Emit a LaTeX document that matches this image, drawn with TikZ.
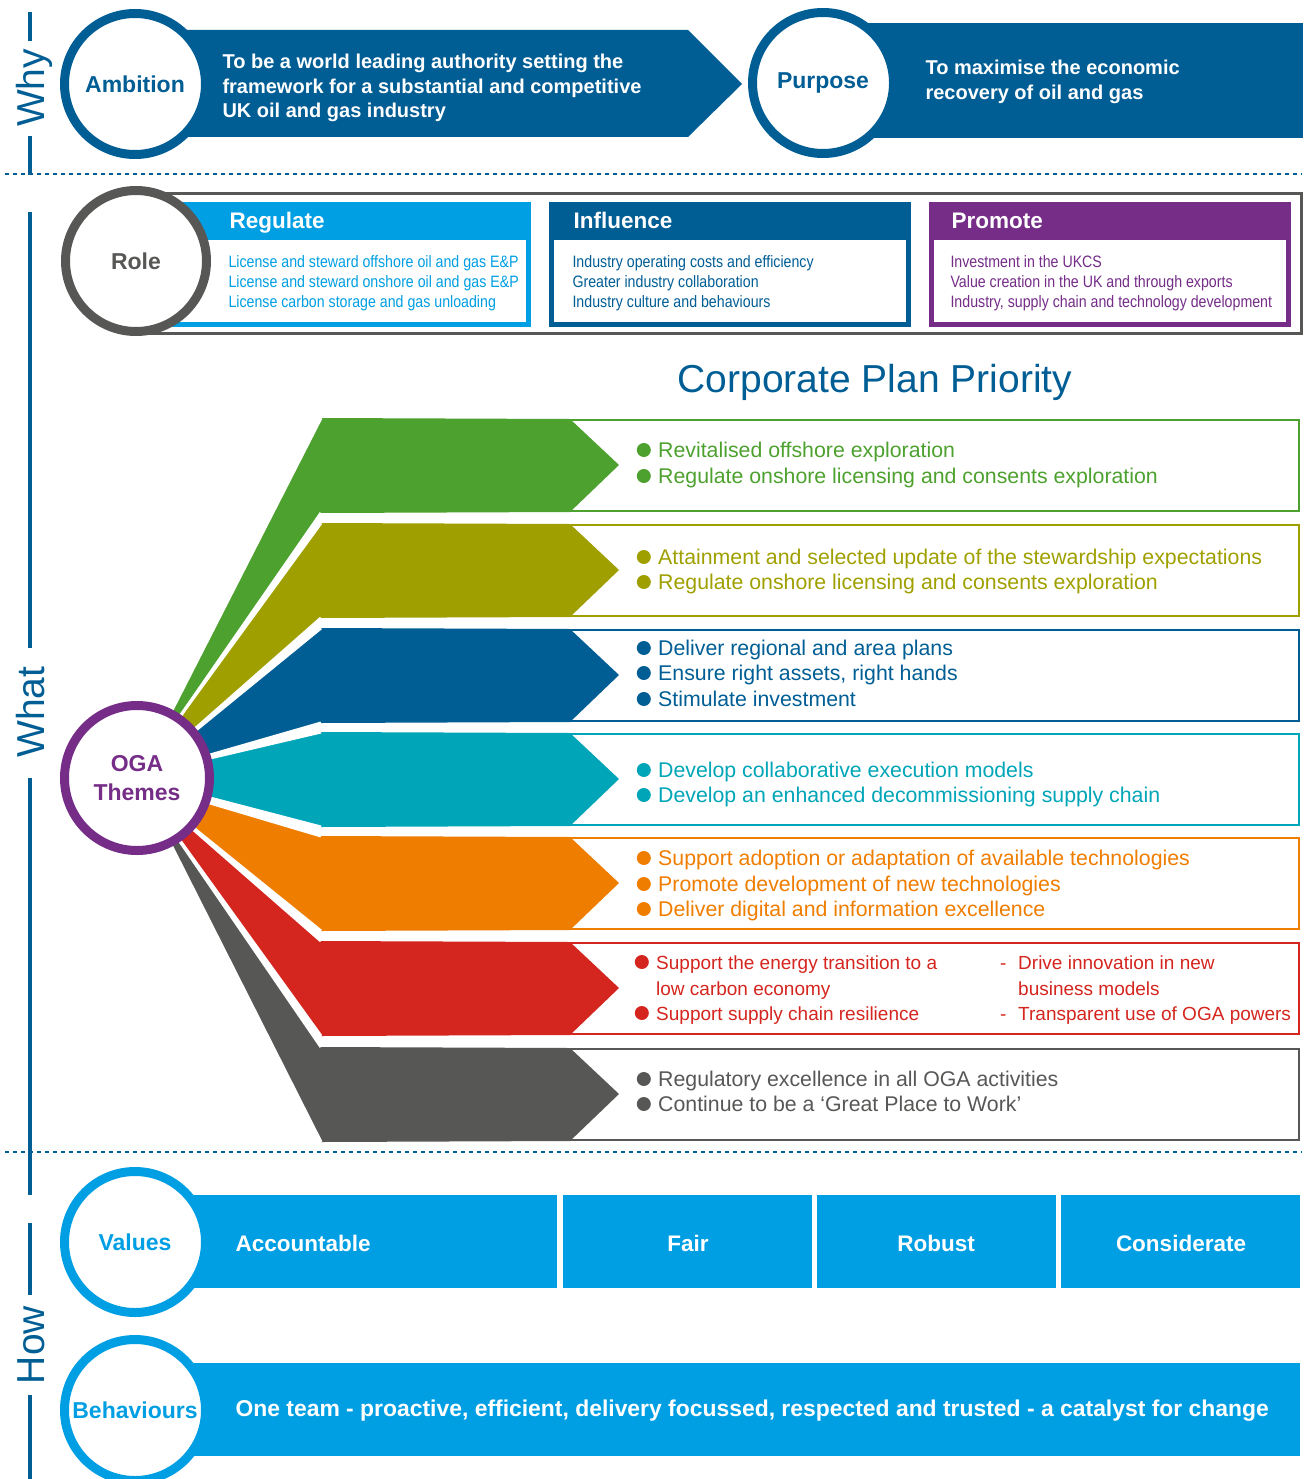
\documentclass[tikz,border=0pt]{standalone}
\usepackage{fontspec}
\setmainfont{Liberation Sans}
\newfontfamily\narrowfont[FakeStretch=0.86]{Liberation Sans}
\usetikzlibrary{calc,positioning}

\definecolor{ogablue}{RGB}{0,94,149}
\definecolor{ogasky}{RGB}{0,159,227}
\definecolor{ogapurple}{RGB}{117,45,136}
\definecolor{ogagrey}{RGB}{87,87,86}
\definecolor{themegreen}{RGB}{77,161,46}
\definecolor{themeolive}{RGB}{159,160,0}
\definecolor{themeteal}{RGB}{0,165,184}
\definecolor{themeorange}{RGB}{239,125,0}
\definecolor{themered}{RGB}{212,37,30}

% colour / top edge / where the two slanted edges meet the hub
\def\themelist{themegreen/418/{172,710}/{181,715},
    themeolive/523/{181,715}/{196,728},
    ogablue/628/{196,730}/{210,755},
    themeteal/732/{210,758}/{210,798},
    themeorange/836/{210,803}/{196,830},
    themered/941/{194,830}/{181,842},
    ogagrey/1047/{181,843}/{172,847}}

\begin{document}
\begin{tikzpicture}[
    x=1pt, y=-1pt,
    % Circle badges
    badge/.style={draw=#1, circle, line width=9pt, fill=white, minimum size=141pt,
        inner sep=0pt, text=#1, align=center, font=\fontsize{23}{29}\selectfont\bfseries},
    % Words on the left spine
    sectionword/.style={rotate=90, text=ogablue, text height=28pt, text depth=0pt,
        font=\fontsize{39}{44}\selectfont},
    spine/.style={ogablue, line width=4pt},
    divider/.style={ogablue, line width=2.5pt, dash pattern=on 4pt off 4pt},
    % Text styles
    banner/.style={anchor=west, text=white, align=left, font=\fontsize{20}{24.5}\selectfont\bfseries},
    rolehead/.style={anchor=west, text=white, text height=16pt, text depth=0pt,
        font=\fontsize{22.5}{26}\selectfont\bfseries},
    roleitem/.style={anchor=west, text=#1, align=left, font=\narrowfont\fontsize{16.5}{20}\selectfont},
    bulletdot/.style={circle, fill=#1, minimum size=14pt, inner sep=0pt},
    themeitem/.style={anchor=west, inner xsep=1pt, text height=15pt, text depth=0pt, text=#1,
        font=\fontsize{21.3}{25}\selectfont, label={[bulletdot=#1, xshift=-6pt]left:{}}},
    plainitem/.style={anchor=west, inner xsep=1pt, text height=14pt, text depth=0pt, text=#1,
        font=\fontsize{19}{23}\selectfont},
    smallfont/.style={font=\fontsize{19}{23}\selectfont, text height=14pt},
    valuetext/.style={text=white, font=\fontsize{22.5}{26}\selectfont\bfseries},
]
\useasboundingbox (0,0) rectangle (1304,1479);

% Spine and section dividers
\draw[spine] (30,12) -- (30,41) (30,136) -- (30,175) (30,212) -- (30,648)
    (30,778) -- (30,1195) (30,1223) -- (30,1295) (30,1395) -- (30,1479);
\node[sectionword] (why) at (30,88) {Why};
\node[sectionword] (what) at (30,712) {What};
\node[sectionword] (how) at (30,1345) {How};
\draw[divider] (5,174) -- (1302,174);
\draw[divider] (5,1152) -- (1302,1152);

% Ambition and purpose
\fill[ogablue] (150,30) -- (688,30) -- (742,84) -- (688,137) -- (150,137) -- cycle;
\node[badge=ogablue] (ambition) at (135,84) {Ambition};
\node[banner] (ambitiontext) at (219,88) {To be a world leading authority setting the\\
    framework for a substantial and competitive\\UK oil and gas industry};
\fill[ogablue] (850,23) rectangle (1303,138);
\node[badge=ogablue] (purpose) at (823,83) {Purpose};
\node[banner] (purposetext) at (922,82) {To maximise the economic\\recovery of oil and gas};

% Role boxes
\draw[ogagrey, line width=3pt] (150,194) rectangle (1301,333);
\foreach \xa/\xb/\tx/\c/\head/\items in {
    165/531/226/ogasky/Regulate/{License and steward offshore oil and gas E\&P\\
        License and steward onshore oil and gas E\&P\\License carbon storage and gas unloading},
    549/911/570/ogablue/Influence/{Industry operating costs and efficiency\\
        Greater industry collaboration\\Industry culture and behaviours},
    929/1291/948/ogapurple/Promote/{Investment in the UKCS\\
        Value creation in the UK and through exports\\Industry, supply chain and technology development}} {
    \draw[\c, line width=5pt, fill=white] (\xa+2.5,204.5) rectangle (\xb-2.5,324.5);
    \fill[\c] (\xa,202) rectangle (\xb,240);
    \node[rolehead] (\head) at (\tx,221) {\head};
    \node[roleitem=\c] (\head-list) at (\tx-1,283) {\items};
}
\node[badge=ogagrey] (role) at (136,261) {Role};

\node[text=ogablue, font=\fontsize{39}{44}\selectfont] (priority) at (875,382) {Corporate Plan Priority};

% Theme fan
\coordinate (hub) at (137,778);
\foreach \c/\t/\ta/\tb in \themelist {
    \draw[\c, line width=2pt] (450,\t+2) rectangle (1299,\t+93);
    \fill[\c] ($(321,\t)!1.08!(\ta)$) -- (321,\t) -- (570,\t+1) -- (619,\t+47)
        -- (570,\t+94) -- (321,\t+95) -- ($(321,\t+95)!1.08!(\tb)$) -- cycle;
}
\foreach \c/\t/\ta/\tb in \themelist {
    \draw[white, line width=3pt] ($(321,\t)!1.08!(\ta)$) -- (321,\t)
        ($(321,\t+95)!1.08!(\tb)$) -- (321,\t+95);
}
\node[badge=ogapurple, minimum size=145pt] (oga) at (hub) {OGA\\Themes};

\node[themeitem=themegreen] (g1) at (657,450) {Revitalised offshore exploration};
\node[themeitem=themegreen] (g2) at (657,476) {Regulate onshore licensing and consents exploration};

\node[themeitem=themeolive] (o1) at (657,557) {Attainment and selected update of the stewardship expectations};
\node[themeitem=themeolive] (o2) at (657,582) {Regulate onshore licensing and consents exploration};

\node[themeitem=ogablue] (b1) at (657,648) {Deliver regional and area plans};
\node[themeitem=ogablue] (b2) at (657,673) {Ensure right assets, right hands};
\node[themeitem=ogablue] (b3) at (657,699) {Stimulate investment};

\node[themeitem=themeteal] (t1) at (657,770) {Develop collaborative execution models};
\node[themeitem=themeteal] (t2) at (657,795) {Develop an enhanced decommissioning supply chain};

\node[themeitem=themeorange] (or1) at (657,858) {Support adoption or adaptation of available technologies};
\node[themeitem=themeorange] (or2) at (657,884) {Promote development of new technologies};
\node[themeitem=themeorange] (or3) at (657,909) {Deliver digital and information excellence};

\node[themeitem=themered, smallfont] (rd1) at (655,962) {Support the energy transition to a};
\node[plainitem=themered] (rd2) at (655,988) {low carbon economy};
\node[themeitem=themered, smallfont] (rd3) at (655,1013) {Support supply chain resilience};
\node[plainitem=themered] (dash1) at (999,962) {-};
\node[plainitem=themered] (dash2) at (999,1013) {-};
\node[plainitem=themered] (rd4) at (1017,962) {Drive innovation in new};
\node[plainitem=themered] (rd5) at (1017,988) {business models};
\node[plainitem=themered] (rd6) at (1017,1013) {Transparent use of OGA powers};

\node[themeitem=ogagrey] (gr1) at (657,1079) {Regulatory excellence in all OGA activities};
\node[themeitem=ogagrey] (gr2) at (657,1104) {Continue to be a ‘Great Place to Work’};

% Values and behaviours
\foreach \xa/\xb in {150/557, 563/812, 817/1056, 1061/1300}
    \fill[ogasky] (\xa,1195) rectangle (\xb,1288);
\fill[ogasky] (150,1363) rectangle (1300,1456);
\node[badge=ogasky] (values) at (135,1242) {Values};
\node[badge=ogasky] (behaviours) at (135,1410) {Behaviours};
\node[valuetext, anchor=west] (accountable) at (232,1243) {Accountable};
\node[valuetext] (fair) at (688,1243) {Fair};
\node[valuetext] (robust) at (936,1243) {Robust};
\node[valuetext] (considerate) at (1181,1243) {Considerate};
\node[valuetext, anchor=west, font=\fontsize{22.9}{26}\selectfont\bfseries] (oneteam) at (232,1411) {One team - proactive, efficient, delivery focussed, respected and trusted - a catalyst for change};

\end{tikzpicture}
\end{document}
